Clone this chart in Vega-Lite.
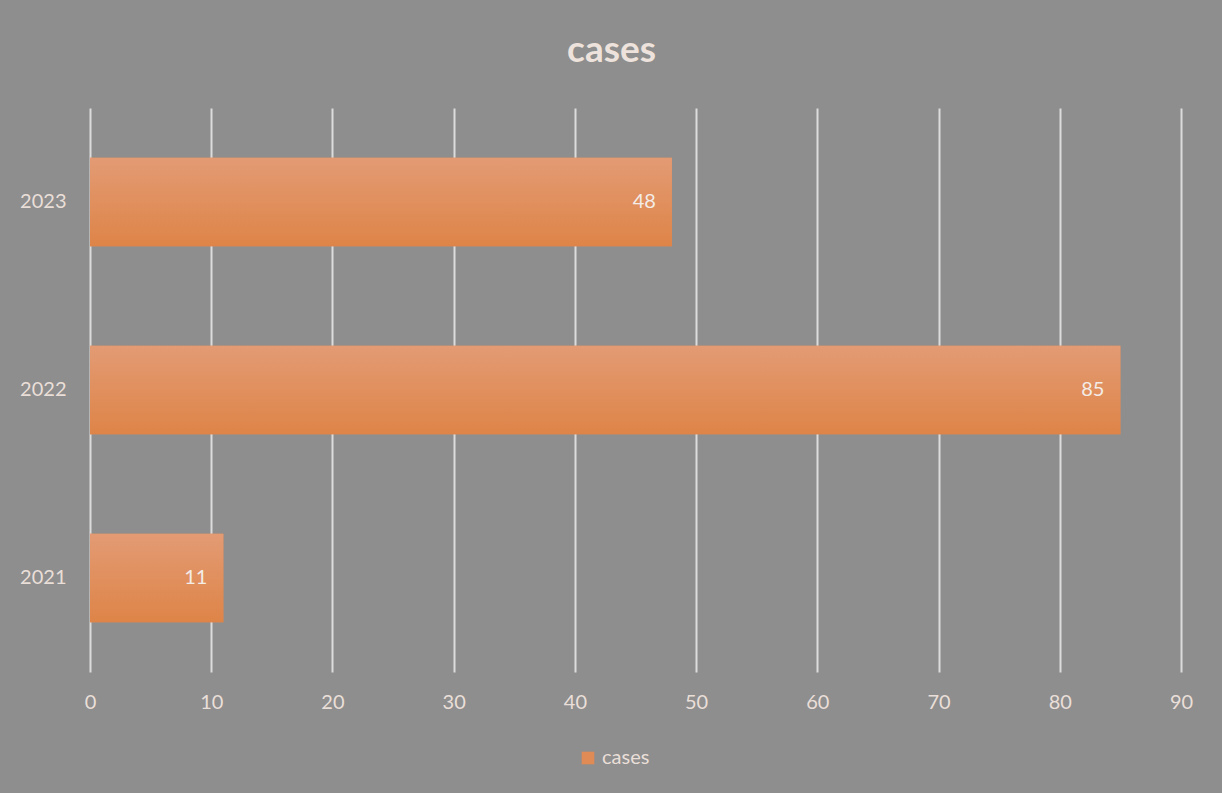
{
  "$schema": "https://vega.github.io/schema/vega-lite/v6.json",
  "width": 1091,
  "height": 564,
  "autosize": {"type": "none"},
  "padding": {"left": 90, "top": 108, "right": 41, "bottom": 121},
  "background": "#8e8e8e",
  "config": {
    "font": "Lato",
    "view": {"stroke": null}
  },
  "title": {
    "text": "cases",
    "fontSize": 37,
    "fontWeight": "bold",
    "color": "#ede3dc",
    "anchor": "middle",
    "dx": -24,
    "offset": 38
  },
  "data": {
    "values": [
      {"year": "2021", "cases": 11, "series": "cases"},
      {"year": "2022", "cases": 85, "series": "cases"},
      {"year": "2023", "cases": 48, "series": "cases"}
    ]
  },
  "encoding": {
    "y": {
      "field": "year",
      "type": "nominal",
      "sort": "descending",
      "scale": {"paddingInner": 0.53, "paddingOuter": 0.265},
      "axis": {
        "title": null,
        "domain": false,
        "ticks": false,
        "labelFontSize": 20,
        "labelColor": "#eadfd8",
        "labelPadding": 24
      }
    },
    "x": {
      "field": "cases",
      "type": "quantitative",
      "scale": {"domain": [0, 90], "nice": false},
      "axis": {
        "title": null,
        "values": [0, 10, 20, 30, 40, 50, 60, 70, 80, 90],
        "domain": false,
        "ticks": false,
        "grid": true,
        "gridColor": "#dcdcdc",
        "gridWidth": 2,
        "labelFlush": false,
        "labelBound": false,
        "labelFontSize": 20,
        "labelColor": "#eadfd8",
        "labelPadding": 20
      }
    }
  },
  "layer": [
    {
      "mark": {"type": "bar"},
      "encoding": {
        "color": {
          "field": "series",
          "type": "nominal",
          "scale": {"range": ["#e08a55"]},
          "legend": {
            "title": null,
            "orient": "none",
            "legendX": 488,
            "legendY": 640,
            "symbolType": "square",
            "symbolSize": 160,
            "symbolStrokeWidth": 0,
            "labelFontSize": 20,
            "labelColor": "#eadfd8",
            "labelOffset": 4
          }
        }
      }
    },
    {
      "mark": {
        "type": "bar",
        "color": {"gradient": "linear", "x1": 0, "y1": 0, "x2": 0, "y2": 1, "stops": [{"offset": 0, "color": "#e39b74"}, {"offset": 1, "color": "#de8448"}]}
      }
    },
    {
      "mark": {"type": "text", "align": "right", "dx": -16, "fontSize": 20, "color": "#f3ece7"},
      "encoding": {"text": {"field": "cases", "type": "quantitative"}}
    }
  ]
}
